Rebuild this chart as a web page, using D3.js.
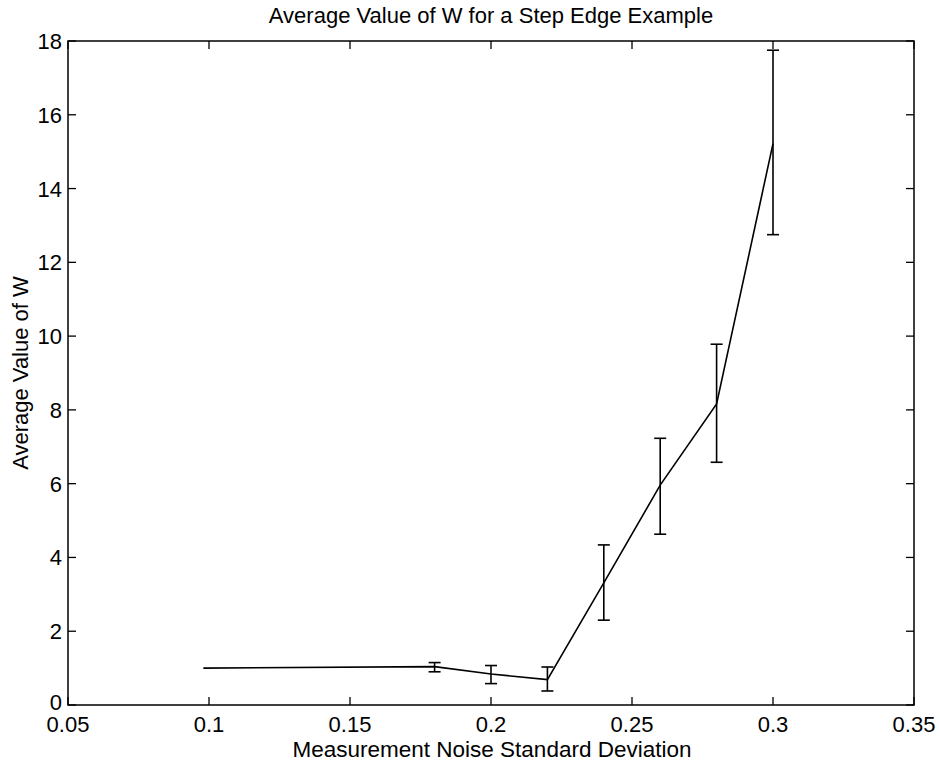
<!DOCTYPE html>
<html>
<head>
<meta charset="utf-8">
<script src="https://cdn.jsdelivr.net/npm/d3@7"></script>
<style>
  html, body { margin: 0; padding: 0; background: #fff; }
  #chart { width: 940px; height: 761px; }
  text { font-family: 'Liberation Sans', Arial, Helvetica, sans-serif; fill: #000; }
</style>
</head>
<body>
<div id="chart"></div>
<script>
// Average value of W vs. measurement noise, with error bars
const noiseSd = [0.098, 0.18, 0.2, 0.22, 0.24, 0.26, 0.28, 0.3];
const meanW = [1.0, 1.04, 0.84, 0.69, 3.31, 5.96, 8.16, 15.22];
const lowW = [null, 0.9, 0.58, 0.38, 2.3, 4.63, 6.58, 12.75];
const highW = [null, 1.15, 1.07, 1.03, 4.34, 7.23, 9.78, 17.75];

const xTicks = [0.05, 0.1, 0.15, 0.2, 0.25, 0.3, 0.35];
const yTicks = [0, 2, 4, 6, 8, 10, 12, 14, 16, 18];

(function () {
  const width = 940;
  const height = 761;
  const margin = { top: 41, right: 26, bottom: 56, left: 68 };
  const fs = 22;

  const svg = d3
    .select('#chart')
    .append('svg')
    .attr('width', width)
    .attr('height', height);

  const x = d3
    .scaleLinear()
    .domain([0.05, 0.35])
    .range([margin.left, width - margin.right]);

  const y = d3
    .scaleLinear()
    .domain([0, 18])
    .range([height - margin.bottom, margin.top]);

  const x0 = x.range()[0], x1 = x.range()[1];
  const y0 = y.range()[0], y1 = y.range()[1];
  const tickLen = 8;

  // box
  svg
    .append('rect')
    .attr('x', x0)
    .attr('y', y1)
    .attr('width', x1 - x0)
    .attr('height', y0 - y1)
    .attr('fill', 'none')
    .attr('stroke', '#000')
    .attr('stroke-width', 1.5);

  // inward ticks on all four sides
  xTicks.forEach((t) => {
    [[y0, -tickLen], [y1, tickLen]].forEach(([yy, d]) => {
      svg.append('line')
        .attr('x1', x(t)).attr('x2', x(t))
        .attr('y1', yy).attr('y2', yy + d)
        .attr('stroke', '#000').attr('stroke-width', 1.3);
    });
    svg.append('text')
      .attr('x', x(t))
      .attr('y', y0 + 27)
      .attr('text-anchor', 'middle')
      .attr('font-size', fs)
      .text(t);
  });

  yTicks.forEach((t) => {
    [[x0, tickLen], [x1, -tickLen]].forEach(([xx, d]) => {
      svg.append('line')
        .attr('x1', xx).attr('x2', xx + d)
        .attr('y1', y(t)).attr('y2', y(t))
        .attr('stroke', '#000').attr('stroke-width', 1.3);
    });
    svg.append('text')
      .attr('x', x0 - 6)
      .attr('y', y(t) + (t === 0 ? 5 : 8))
      .attr('text-anchor', 'end')
      .attr('font-size', fs)
      .text(t);
  });

  // data line
  const pts = noiseSd.map((v, i) => ({ x: v, m: meanW[i], lo: lowW[i], hi: highW[i] }));

  svg
    .append('path')
    .datum(pts)
    .attr('fill', 'none')
    .attr('stroke', '#000')
    .attr('stroke-width', 1.6)
    .attr('d', d3.line().x((d) => x(d.x)).y((d) => y(d.m)));

  // error bars
  const cap = 6;
  const bars = svg
    .selectAll('.err')
    .data(pts.filter((d) => d.lo !== null))
    .enter()
    .append('g')
    .attr('class', 'err')
    .attr('stroke', '#000')
    .attr('stroke-width', 1.6);

  bars.append('line')
    .attr('x1', (d) => x(d.x)).attr('x2', (d) => x(d.x))
    .attr('y1', (d) => y(d.lo)).attr('y2', (d) => y(d.hi));
  bars.append('line')
    .attr('x1', (d) => x(d.x) - cap).attr('x2', (d) => x(d.x) + cap)
    .attr('y1', (d) => y(d.lo)).attr('y2', (d) => y(d.lo));
  bars.append('line')
    .attr('x1', (d) => x(d.x) - cap).attr('x2', (d) => x(d.x) + cap)
    .attr('y1', (d) => y(d.hi)).attr('y2', (d) => y(d.hi));

  // titles
  svg.append('text')
    .attr('x', (x0 + x1) / 2)
    .attr('y', 23)
    .attr('text-anchor', 'middle')
    .attr('font-size', fs)
    .text('Average Value of W for a Step Edge Example');

  svg.append('text')
    .attr('x', (x0 + x1) / 2 + 1)
    .attr('y', 757)
    .attr('text-anchor', 'middle')
    .attr('font-size', 22.5)
    .text('Measurement Noise Standard Deviation');

  svg.append('text')
    .attr('transform', `translate(28, ${(y0 + y1) / 2}) rotate(-90)`)
    .attr('text-anchor', 'middle')
    .attr('font-size', fs)
    .text('Average Value of W');
})();
</script>
</body>
</html>
